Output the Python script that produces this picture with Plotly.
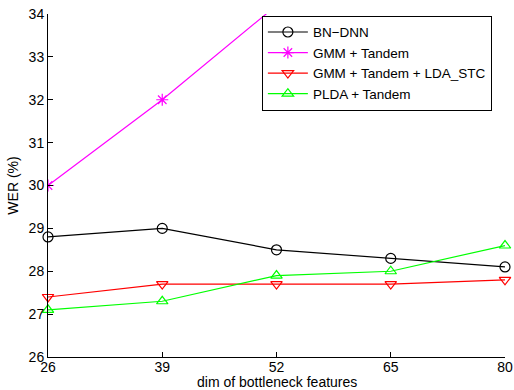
import plotly.graph_objects as go

dims = ["26", "39", "52", "65", "80"]
bn_dnn = [28.8, 29.0, 28.5, 28.3, 28.1]
gmm_tandem = [30.0, 32.0, 34.2, None, None]
gmm_lda_stc = [27.4, 27.7, 27.7, 27.7, 27.8]
plda_tandem = [27.1, 27.3, 27.9, 28.0, 28.6]

series = [
    ("BN\u2212DNN", bn_dnn, "black", "circle-open", False),
    ("GMM + Tandem", gmm_tandem, "#ff00ff", "asterisk-open", True),
    ("GMM + Tandem + LDA_STC", gmm_lda_stc, "#ff0000", "triangle-down-open", False),
    ("PLDA + Tandem", plda_tandem, "#00ff00", "triangle-up-open", False),
]

fig = go.Figure()
for name, vals, color, sym, clip in series:
    fig.add_trace(go.Scatter(
        x=list(range(len(dims))), y=vals, name=name, mode="lines+markers",
        line=dict(color=color, width=1.2),
        marker=dict(symbol=sym, size=10, color=color, line=dict(color=color, width=1.2)),
        cliponaxis=clip,
    ))

font = "Liberation Sans, Arial, Helvetica, sans-serif"
fig.update_layout(
    width=514, height=390,
    margin=dict(l=48, r=9, t=14, b=33, autoexpand=False),
    plot_bgcolor="white", paper_bgcolor="white",
    font=dict(family=font, size=14, color="black"),
    showlegend=True,
    legend=dict(
        x=0.468, y=0.995, xanchor="left", yanchor="top",
        bgcolor="white", bordercolor="black", borderwidth=1,
        font=dict(size=13.5), tracegroupgap=0, itemwidth=40,
    ),
    xaxis=dict(
        range=[0, 4], tickvals=list(range(len(dims))), ticktext=dims,
        showgrid=False, zeroline=False, showline=True, linecolor="black", linewidth=1,
        ticks="inside", ticklen=5, tickcolor="black", ticklabelstandoff=-3,
        automargin=False,
    ),
    yaxis=dict(
        range=[26, 34], dtick=1,
        showgrid=False, zeroline=False, showline=True, linecolor="black", linewidth=1,
        ticks="inside", ticklen=5, tickcolor="black", automargin=False,
        title=dict(text="WER (%)", font=dict(size=14), standoff=6),
    ),
    annotations=[dict(
        text="dim of bottleneck features", xref="paper", yref="paper",
        x=0.5, y=-0.073, xanchor="center", yanchor="middle", showarrow=False,
        font=dict(size=14),
    )],
)

fig.write_html("out.html", config={"displayModeBar": False},
               post_script="document.body.style.margin='0';")
